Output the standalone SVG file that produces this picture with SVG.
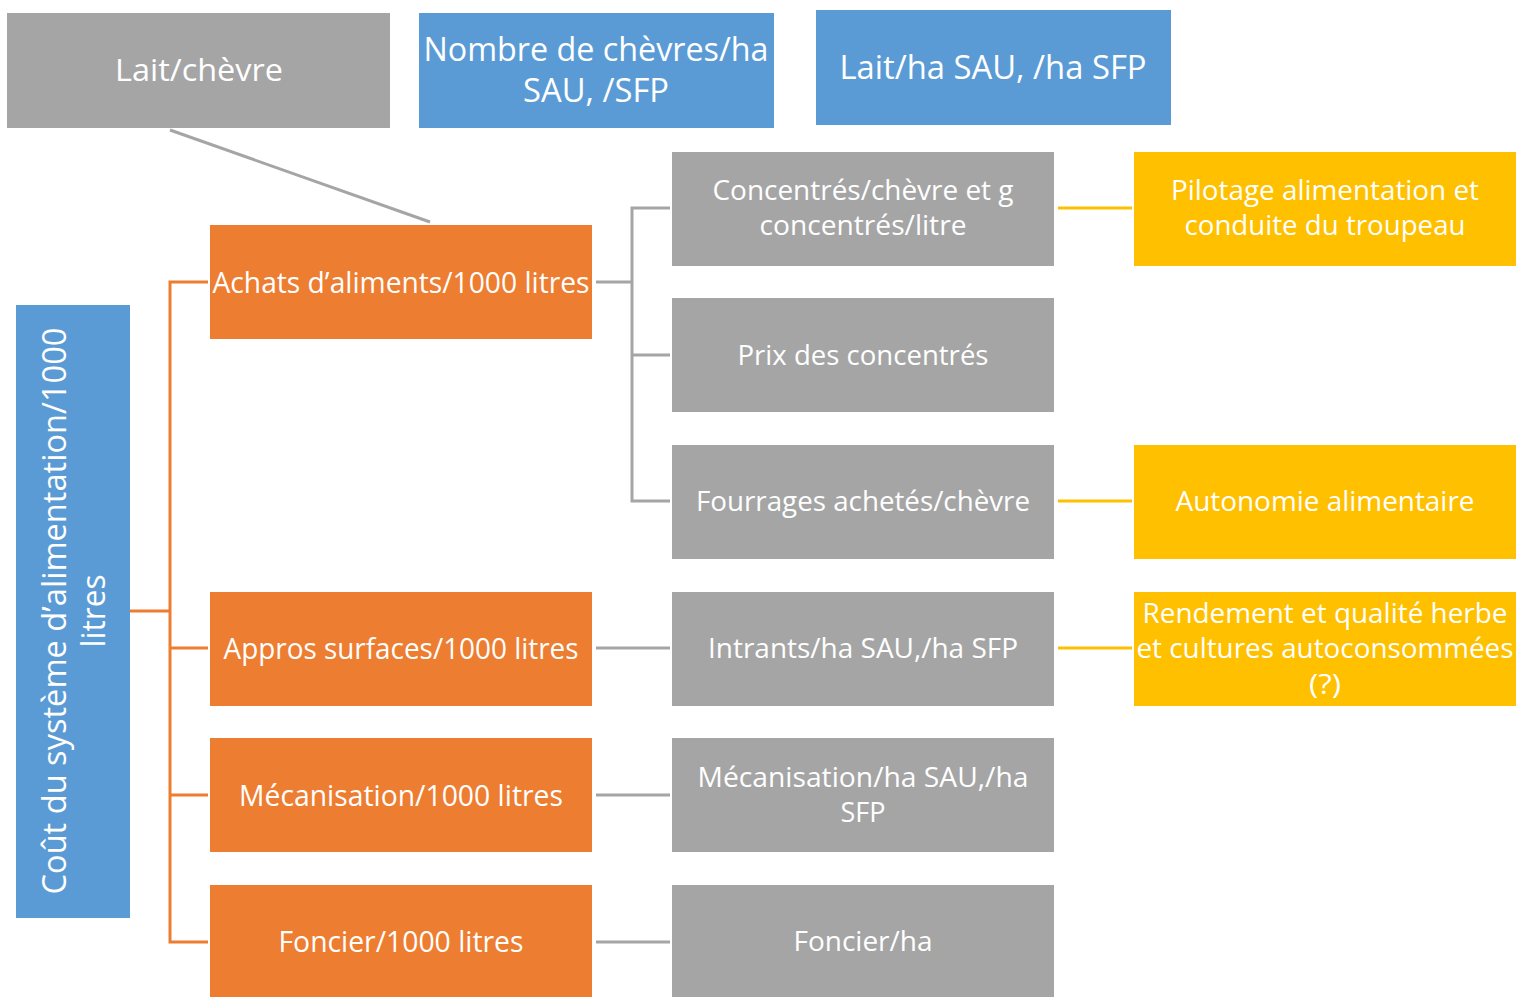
<svg xmlns="http://www.w3.org/2000/svg" width="1517" height="997" viewBox="0 0 1517 997">
<style>
.gray{fill:#A5A5A5}
.blue{fill:#5B9BD5}
.orange{fill:#ED7D31}
.yellow{fill:#FFC000}
text{font-family:"Open Sans","Noto Sans","Liberation Sans",sans-serif;fill:#FFFFFF;text-anchor:middle}
.t27{font-size:27px}
.t29{font-size:29px}
.t31{font-size:31px}
.t32{font-size:32px}
.cg{stroke:#A5A5A5;stroke-width:3;fill:none}
.co{stroke:#ED7D31;stroke-width:3;fill:none}
.cy{stroke:#FFC000;stroke-width:3;fill:none}
</style>
<rect width="1517" height="997" fill="#FFFFFF"/>
<g id="connectors">
<line class="cg" x1="170" y1="130" x2="430" y2="222"/>
<polyline class="co" points="130,611 170,611"/>
<polyline class="co" points="208,282 170,282 170,942 208,942"/>
<line class="co" x1="170" y1="648" x2="208" y2="648"/>
<line class="co" x1="170" y1="795" x2="208" y2="795"/>
<line class="cg" x1="596" y1="282" x2="632" y2="282"/>
<polyline class="cg" points="670,208 632,208 632,501 670,501"/>
<line class="cg" x1="632" y1="355" x2="670" y2="355"/>
<line class="cg" x1="596" y1="648" x2="670" y2="648"/>
<line class="cg" x1="596" y1="795" x2="670" y2="795"/>
<line class="cg" x1="596" y1="942" x2="670" y2="942"/>
<line class="cy" x1="1058" y1="208" x2="1132" y2="208"/>
<line class="cy" x1="1058" y1="501" x2="1132" y2="501"/>
<line class="cy" x1="1058" y1="648" x2="1132" y2="648"/>
</g>
<g id="lait-chevre"><rect class="gray" x="7" y="13" width="383" height="115"/><text class="t31" x="199" y="81" textLength="168" lengthAdjust="spacingAndGlyphs">Lait/chèvre</text></g>
<g id="nombre-chevres"><rect class="blue" x="419" y="13" width="355" height="115"/><text class="t32" x="596" y="61" textLength="345" lengthAdjust="spacingAndGlyphs">Nombre de chèvres/ha</text><text class="t32" x="596" y="102" textLength="146" lengthAdjust="spacingAndGlyphs">SAU, /SFP</text></g>
<g id="lait-ha"><rect class="blue" x="816" y="10" width="355" height="115"/><text class="t32" x="993" y="79" textLength="307" lengthAdjust="spacingAndGlyphs">Lait/ha SAU, /ha SFP</text></g>
<g id="cout-systeme"><rect class="blue" x="16" y="305" width="114" height="613"/><text class="t32" transform="translate(66,611) rotate(-90)" x="0" y="0" textLength="567" lengthAdjust="spacingAndGlyphs">Coût du système d’alimentation/1000</text><text class="t32" transform="translate(105,611) rotate(-90)" x="0" y="0" textLength="73" lengthAdjust="spacingAndGlyphs">litres</text></g>
<g id="achats"><rect class="orange" x="210" y="225" width="382" height="114"/><text class="t29" x="401" y="293" textLength="377" lengthAdjust="spacingAndGlyphs">Achats d’aliments/1000 litres</text></g>
<g id="appros"><rect class="orange" x="210" y="592" width="382" height="114"/><text class="t29" x="401" y="659" textLength="355" lengthAdjust="spacingAndGlyphs">Appros surfaces/1000 litres</text></g>
<g id="mecanisation"><rect class="orange" x="210" y="738" width="382" height="114"/><text class="t29" x="401" y="806" textLength="324" lengthAdjust="spacingAndGlyphs">Mécanisation/1000 litres</text></g>
<g id="foncier"><rect class="orange" x="210" y="885" width="382" height="114"/><text class="t29" x="401" y="952" textLength="245" lengthAdjust="spacingAndGlyphs">Foncier/1000 litres</text></g>
<g id="concentres"><rect class="gray" x="672" y="152" width="382" height="114"/><text class="t27" x="863" y="200" textLength="301" lengthAdjust="spacingAndGlyphs">Concentrés/chèvre et g</text><text class="t27" x="863" y="235" textLength="207" lengthAdjust="spacingAndGlyphs">concentrés/litre</text></g>
<g id="prix"><rect class="gray" x="672" y="298" width="382" height="114"/><text class="t27" x="863" y="365" textLength="251" lengthAdjust="spacingAndGlyphs">Prix des concentrés</text></g>
<g id="fourrages"><rect class="gray" x="672" y="445" width="382" height="114"/><text class="t27" x="863" y="511" textLength="334" lengthAdjust="spacingAndGlyphs">Fourrages achetés/chèvre</text></g>
<g id="intrants"><rect class="gray" x="672" y="592" width="382" height="114"/><text class="t27" x="863" y="658" textLength="310" lengthAdjust="spacingAndGlyphs">Intrants/ha SAU,/ha SFP</text></g>
<g id="meca-ha"><rect class="gray" x="672" y="738" width="382" height="114"/><text class="t27" x="863" y="787" textLength="331" lengthAdjust="spacingAndGlyphs">Mécanisation/ha SAU,/ha</text><text class="t27" x="863" y="822" textLength="45" lengthAdjust="spacingAndGlyphs">SFP</text></g>
<g id="foncier-ha"><rect class="gray" x="672" y="885" width="382" height="114"/><text class="t27" x="863" y="951" textLength="139" lengthAdjust="spacingAndGlyphs">Foncier/ha</text></g>
<g id="pilotage"><rect class="yellow" x="1134" y="152" width="382" height="114"/><text class="t27" x="1325" y="200" textLength="308" lengthAdjust="spacingAndGlyphs">Pilotage alimentation et</text><text class="t27" x="1325" y="235" textLength="281" lengthAdjust="spacingAndGlyphs">conduite du troupeau</text></g>
<g id="autonomie"><rect class="yellow" x="1134" y="445" width="382" height="114"/><text class="t27" x="1325" y="511" textLength="299" lengthAdjust="spacingAndGlyphs">Autonomie alimentaire</text></g>
<g id="rendement"><rect class="yellow" x="1134" y="592" width="382" height="114"/><text class="t27" x="1325" y="623" textLength="365" lengthAdjust="spacingAndGlyphs">Rendement et qualité herbe</text><text class="t27" x="1325" y="658" textLength="377" lengthAdjust="spacingAndGlyphs">et cultures autoconsommées</text><text class="t27" x="1325" y="694" textLength="32" lengthAdjust="spacingAndGlyphs">(?)</text></g>
</svg>
